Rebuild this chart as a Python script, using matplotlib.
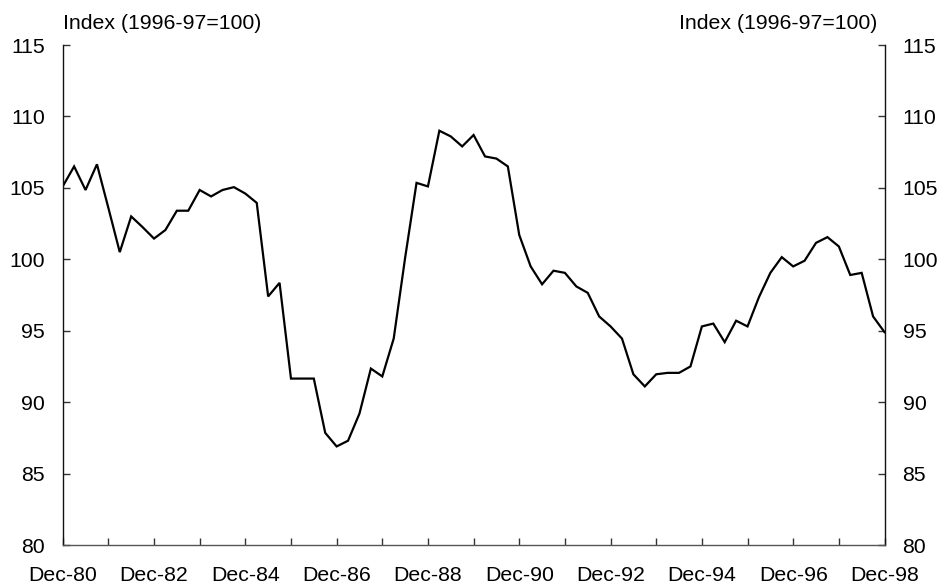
import matplotlib
matplotlib.use("Agg")
import matplotlib.pyplot as plt

# quarterly index, Dec-80 .. Dec-98
index_values = [
    105.1, 106.5, 104.85, 106.65, 103.6, 100.5, 103.0, 102.25, 101.45, 102.05,
    103.4, 103.4, 104.85, 104.4, 104.85, 105.05, 104.6, 103.95, 97.4, 98.35,
    91.65, 91.65, 91.65, 87.85, 86.9, 87.3, 89.2, 92.35, 91.8, 94.45,
    100.1, 105.35, 105.1, 109.0, 108.6, 107.9, 108.7, 107.2, 107.05, 106.5,
    101.7, 99.5, 98.25, 99.2, 99.05, 98.1, 97.65, 96.0, 95.3, 94.45,
    91.95, 91.1, 91.95, 92.05, 92.05, 92.5, 95.3, 95.5, 94.2, 95.7,
    95.3, 97.35, 99.05, 100.15, 99.5, 99.9, 101.15, 101.55, 100.9, 98.9,
    99.05, 96.0, 94.9,
]
year_labels = ["Dec-80", "", "Dec-82", "", "Dec-84", "", "Dec-86", "", "Dec-88", "",
               "Dec-90", "", "Dec-92", "", "Dec-94", "", "Dec-96", "", "Dec-98"]
y_ticks = [80, 85, 90, 95, 100, 105, 110, 115]
axis_label = "Index (1996-97=100)"

plt.rcParams['font.family'] = ['Liberation Sans', 'DejaVu Sans']

fig = plt.figure(figsize=(9.39, 5.84), dpi=100)
ax = fig.add_axes([62.7 / 939, 1 - 545 / 584, (884.5 - 62.7) / 939, 500 / 584])

quarters = list(range(len(index_values)))
ax.plot(quarters, index_values, color="black", lw=1.6, solid_joinstyle="miter")

ax.set_xlim(0, len(index_values) - 1)
ax.set_ylim(80, 115)
ax.set_xticks(range(0, len(index_values), 4))
ax.set_xticklabels(year_labels)
ax.set_yticks(y_ticks)

for side in ["left", "right"]:
    ax.spines[side].set_color("#111111")
    ax.spines[side].set_linewidth(1.0)
ax.spines["bottom"].set_color("#555555")
ax.spines["bottom"].set_linewidth(1.0)
ax.spines["top"].set_visible(False)

ax.tick_params(axis="x", direction="in", length=5, width=1, color="#333333",
               labelsize=15.3, pad=15)
ax.tick_params(axis="y", direction="in", length=5, width=1, color="#333333",
               labelsize=15.3, pad=13, left=True, right=True, labelleft=True, labelright=True)

fig.text(63 / 939, 1 - 29 / 584, axis_label, fontsize=15.3, ha="left", va="baseline")
fig.text(877 / 939, 1 - 29 / 584, axis_label, fontsize=15.3, ha="right", va="baseline")

fig.savefig("out.png", dpi=100)
